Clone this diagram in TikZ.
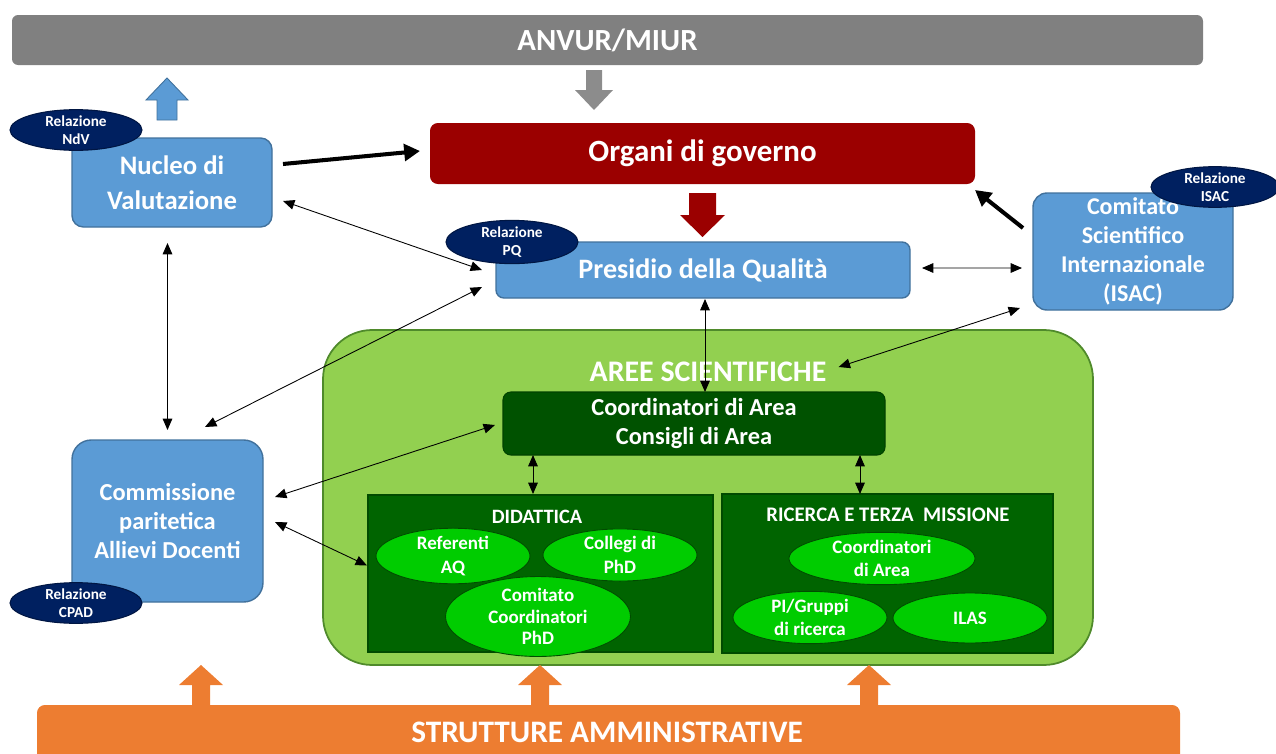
\documentclass[tikz,border=0pt]{standalone}
\usepackage{fontspec}
\setmainfont{Carlito}
\usetikzlibrary{arrows.meta,calc,shapes.geometric}
\definecolor{grayA}{HTML}{808080}
\definecolor{grayB}{HTML}{8C8C8C}
\definecolor{blueA}{HTML}{5B9BD5}
\definecolor{blueD}{HTML}{41719C}
\definecolor{redA}{HTML}{9B0000}
\definecolor{navyA}{HTML}{002060}
\definecolor{lgreen}{HTML}{92D050}
\definecolor{lgreenD}{HTML}{4F8A2B}
\definecolor{dgreen}{HTML}{005200}
\definecolor{mgreen}{HTML}{006400}
\definecolor{mgreenD}{HTML}{004A00}
\definecolor{bgreen}{HTML}{00CC00}
\definecolor{orangeA}{HTML}{ED7D31}
\tikzset{
  wh/.style n args={2}{minimum width=#1*0.02cm, minimum height=#2*0.02cm, inner sep=0pt, outer sep=0pt},
  wtxt/.style={text=white, align=center},
  fs/.style n args={2}{font=\bfseries\fontsize{#1}{#2}\selectfont},
  bluebox/.style={rectangle, fill=blueA, draw=blueD, line width=0.8pt, wtxt},
  relnode/.style={ellipse, fill=navyA, draw=navyA!70!black, line width=0.6pt, wtxt, fs={8.7}{10.2}},
  gell/.style={ellipse, fill=bgreen, draw=black!70!green, line width=0.5pt, wtxt, fs={10.8}{13.4}},
  dbox/.style={rectangle, fill=mgreen, draw=mgreenD, line width=0.8pt},
  thinarr/.style={{Triangle[length=6.5pt,width=5.5pt]}-{Triangle[length=6.5pt,width=5.5pt]}, line width=0.5pt, black},
  thickarr/.style={-{Triangle[length=9pt,width=9.5pt]}, line width=2.3pt, black}
}
\begin{document}
\begin{tikzpicture}[x=0.02cm,y=-0.02cm]
\useasboundingbox (0,0) rectangle (1276,754);

% top bar
\node[rectangle, wh={1191}{50}, fill=grayA, rounded corners=3.5pt, wtxt, fs={17.5}{20}] (anvur) at (607.5,40) {ANVUR/MIUR};
% gray down arrow
\fill[grayB] (586,70) -- (602,70) -- (602,90) -- (613,90) -- (594,110) -- (575,90) -- (586,90) -- cycle;
% blue up arrow
\filldraw[fill=blueA, draw=blueD, line width=0.5pt] (157,120) -- (177,120) -- (177,100) -- (188,100) -- (167,78) -- (146,100) -- (157,100) -- cycle;

% Nucleo di Valutazione
\node[bluebox, wh={200}{89}, rounded corners=6.5pt, fs={15.2}{19.8}] (nv) at (172,182.5) {Nucleo di\\Valutazione};
\node[relnode, wh={132}{40}] (relnv) at (76,130) {Relazione\\NdV};

% Organi di governo
\node[rectangle, wh={545}{61}, fill=redA, rounded corners=4.5pt, wtxt, fs={17.6}{20}] (org) at (702.5,153.5) {Organi di governo};
% red down arrow
\fill[redA] (689,193) -- (716,193) -- (716,215) -- (725,215) -- (702.5,237) -- (680,215) -- (689,215) -- cycle;

% Presidio della Qualita
\node[bluebox, wh={414}{56}, rounded corners=4.5pt, fs={16}{19}] (pq) at (703,270) {Presidio della Qualità};
\node[relnode, wh={132}{41}] (relpq) at (512,242) {Relazione\\PQ};

% ISAC
\node[bluebox, wh={200}{117}, rounded corners=8pt, fs={13.7}{16.4}] (isac) at (1133,251.5) {Comitato\\Scientifico\\Internazionale\\(ISAC)};
\node[relnode, wh={128}{40}] (relisac) at (1215,187) {Relazione\\ISAC};

% CPAD
\node[bluebox, wh={191}{162}, rounded corners=11pt, fs={13.9}{16.4}] (cpad) at (167.5,521) {Commissione\\paritetica\\Allievi Docenti};
\node[relnode, wh={132}{40}] (relcpad) at (76,603) {Relazione\\CPAD};

% Aree scientifiche container
\node[rectangle, wh={770}{335}, fill=lgreen, draw=lgreenD, line width=1pt, rounded corners=28pt] (aree) at (708,497.5) {};
\node[wtxt, fs={17}{20}, inner sep=0pt] (areet) at (708,372) {AREE SCIENTIFICHE};
\node[rectangle, wh={382}{63}, fill=dgreen, draw=dgreen!80!black, line width=0.6pt, rounded corners=4.5pt, wtxt, fs={13.9}{16}] (coord) at (694,423.5) {Coordinatori di Area\\Consigli di Area};

% Didattica
\node[dbox, wh={345}{157}] (did) at (540.5,573.5) {};
\node[wtxt, fs={11.6}{14}, inner sep=0pt] (didt) at (537,517) {DIDATTICA};
\node[gell, wh={154}{51}] (refaq) at (453,556) {Referenti\\AQ};
\node[gell, wh={154}{51}] (coll) at (620,555) {Collegi di\\PhD};
\node[gell, wh={185}{61}, fs={10.8}{12.3}] (ccphd) at (538,616.5) {Comitato\\Coordinatori\\PhD};

% Ricerca
\node[dbox, wh={331}{159}] (ric) at (887.5,573.5) {};
\node[wtxt, fs={11.8}{14}, inner sep=0pt] (rict) at (888,515) {RICERCA E TERZA\ \ MISSIONE};
\node[gell, wh={186}{49}] (carea) at (882,558.5) {Coordinatori\\di Area};
\node[gell, wh={154}{51}] (pig) at (810,617.5) {PI/Gruppi\\di ricerca};
\node[gell, wh={154}{50}] (ilas) at (970,618) {ILAS};

% Strutture amministrative
\node[rectangle, wh={1143}{75}, fill=orangeA, rounded corners=4.5pt] (strut) at (608.5,742.5) {};
\node[wtxt, fs={17.8}{20}, inner sep=0pt] (strutt) at (607,732) {STRUTTURE AMMINISTRATIVE};
\foreach \cx in {201,540,869}{
  \fill[orangeA] (\cx-9,705) -- (\cx+9,705) -- (\cx+9,685) -- (\cx+22,685) -- (\cx,665) -- (\cx-22,685) -- (\cx-9,685) -- cycle;
}

% thick arrows
\draw[thickarr] ($(nv.east)+(11,-18.5)$) -- ($(org.west)+(-10,-2.5)$);
\draw[thickarr] ($(isac.west)+(-10,-23.5)$) -- ($(org.south east)+(0,6)$);

% thin double arrows
\draw[thinarr] ($(nv.east)+(11,18.5)$) -- ($(pq.west)+(-14,0)$);
\draw[thinarr] ($(pq.west)+(-14,17)$) -- ($(cpad.north east)+(-58,-13)$);
\draw[thinarr] ($(nv.south)+(-4.5,16)$) -- ($(cpad.north)+(0,-10)$);
\draw[thinarr] ($(pq.east)+(12,-2)$) -- ($(isac.west)+(-11,16.5)$);
\draw[thinarr] ($(isac.west)+(-13,56.5)$) -- ($(areet.east)+(12,-5)$);
\draw[thinarr] ($(pq.south)+(2,1)$) -- ($(coord.north)+(11,0)$);
\draw[thinarr] ($(cpad.east)+(12,-24)$) -- ($(coord.west)+(-8,1.5)$);
\draw[thinarr] ($(cpad.east)+(12,1)$) -- ($(did.west)+(-1,-8)$);
\draw[thinarr] ($(coord.south)+(-161,0)$) -- ($(did.north)+(-7.5,-1)$);
\draw[thinarr] ($(coord.south)+(166,0)$) -- ($(ric.north)+(-27.5,0)$);
\end{tikzpicture}
\end{document}
